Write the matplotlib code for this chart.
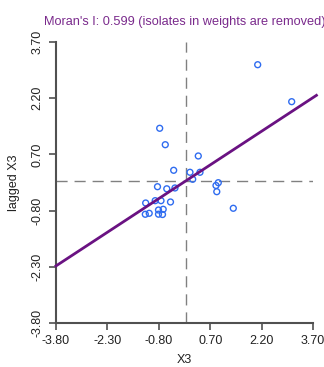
#!/usr/bin/env python3
"""Moran scatterplot of X3 against its spatial lag."""

import numpy as np
import matplotlib
matplotlib.use("Agg")
import matplotlib.pyplot as plt

# standardized X3 and its spatial lag
x3 = [-0.774, -0.611, 0.352, -0.366, 0.110, 0.402, 0.189, -0.838, -0.567,
      -0.328, 0.936, 0.869, 0.892, -1.183, -0.905, -0.736, -0.459, 1.374,
      -1.194, -1.080, -0.809, -0.672, -0.809, -0.692, 2.086, 3.078]
lag_x3 = [1.397, 0.959, 0.658, 0.276, 0.223, 0.223, 0.036, -0.162, -0.218,
          -0.196, -0.055, -0.130, -0.295, -0.597, -0.535, -0.535, -0.570, -0.738,
          -0.898, -0.872, -0.784, -0.765, -0.896, -0.904, 3.094, 2.107]
morans_i = 0.599
ticks = [-3.80, -2.30, -0.80, 0.70, 2.20, 3.70]

plt.rcParams['font.family'] = ['Liberation Sans', 'DejaVu Sans']

fig = plt.figure(figsize=(3.24, 3.67), dpi=100)
ax = fig.add_axes([56 / 324, 44 / 367, 257 / 324, 281 / 367])

lo, hi = ticks[0], ticks[-1]
ax.set_xlim(lo, hi)
ax.set_ylim(lo, hi)

# mean reference lines
ax.axvline(0, color='#808080', lw=1.0, ls=(0, (8, 5)), zorder=1)
ax.axhline(0, color='#808080', lw=1.0, ls=(0, (8, 5)), zorder=1)

ax.scatter(x3, lag_x3, s=18, facecolors='none', edgecolors='#2f6cf0',
           linewidths=1.0, zorder=3)

xs = np.array([lo, hi + 0.1])
ax.plot(xs, morans_i * xs, color='#6a1282', lw=2.0, zorder=4, clip_on=False)

ax.set_xticks(ticks)
ax.set_yticks(ticks)
ax.set_xticklabels([f"{t:.2f}" for t in ticks])
ax.set_yticklabels([f"{t:.2f}" for t in ticks], rotation=90, va='center')

for side in ('top', 'right'):
    ax.spines[side].set_visible(False)
for side in ('left', 'bottom'):
    ax.spines[side].set_color('#505050')
    ax.spines[side].set_linewidth(1.5)
ax.tick_params(direction='out', length=5, width=1.2, color='#505050',
               labelsize=9, labelcolor='#222222', pad=4)

ax.set_xlabel('X3', fontsize=9, color='#222222', labelpad=5)
ax.set_ylabel('lagged X3', fontsize=9, color='#222222', labelpad=8)
ax.set_title(f"Moran's I: {morans_i:.3f} (isolates in weights are removed)",
             fontsize=9.2, color='#7a2a8c', pad=12)

fig.savefig('out.png', dpi=100)
